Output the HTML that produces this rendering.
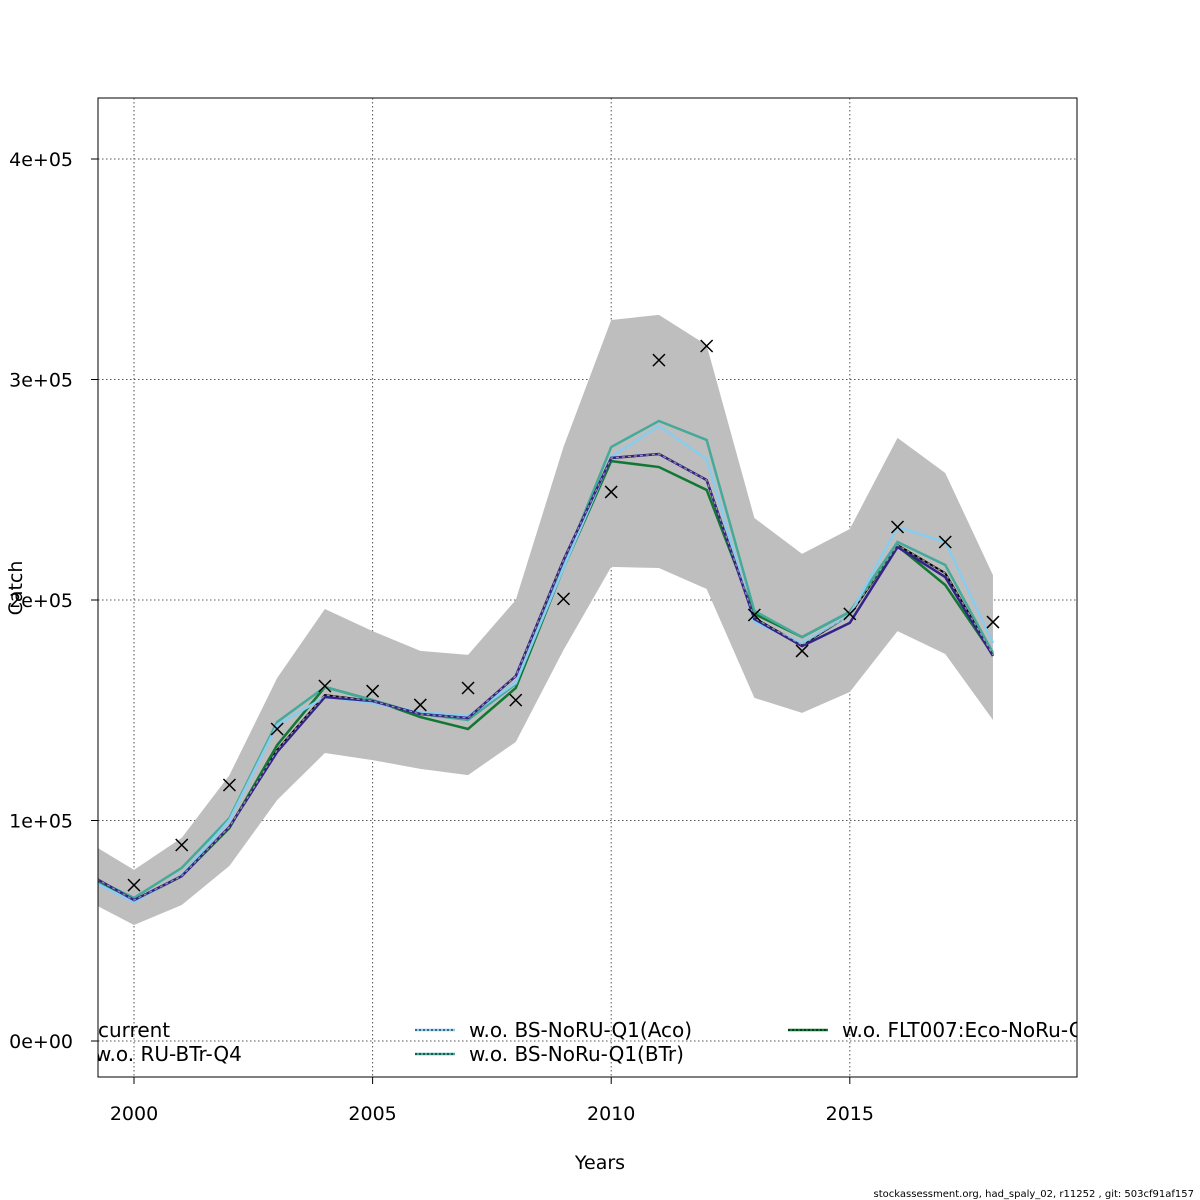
<!DOCTYPE html>
<html><head><meta charset="utf-8"><style>body{margin:0;background:#fff}svg{display:block;font-family:"DejaVu Sans","Liberation Sans",sans-serif}</style></head>
<body>
<svg id="chart" width="1200" height="1200">
<defs><clipPath id="pc"><rect x="98" y="98" width="979" height="979"/></clipPath></defs>
<g id="grid"></g>
<g id="marks" clip-path="url(#pc)"></g>
<rect x="98" y="98" width="979" height="979" fill="none" stroke="#000" stroke-width="1"/>
<g id="axes"></g>
<text x="600" y="1169" font-size="19" text-anchor="middle">Years</text>
<text x="22" y="588" font-size="19" text-anchor="middle" transform="rotate(-90 22 588)">Catch</text>
<g id="legend" clip-path="url(#pc)"></g>
<text x="1194" y="1197" font-size="10" text-anchor="end">stockassessment.org, had_spaly_02, r11252 , git: 503cf91af157</text>
</svg>
<script>
const years=[1999,2000,2001,2002,2003,2004,2005,2006,2007,2008,2009,2010,2011,2012,2013,2014,2015,2016,2017,2018];
const obsYears=[2000,2001,2002,2003,2004,2005,2006,2007,2008,2009,2010,2011,2012,2013,2014,2015,2016,2017,2018];
const observed=[70.7,88.9,116.1,141.5,161.0,158.7,152.4,160.1,154.6,200.5,249.0,308.8,315.2,193.2,176.9,193.7,233.1,226.3,190.0];
const upper=[90.7,77.6,92.1,120.6,164.6,195.9,185.9,176.9,175.1,200,269.4,327.0,329.3,315.6,237.2,220.9,232.2,273.5,257.6,211.3];
const lower=[63.9,52.6,61.7,79.4,109.3,130.6,127.4,123.4,120.6,135.6,177.3,215.0,214.5,205.0,155.6,148.8,158.3,185.9,175.5,145.6];
const current=[76.2,63.9,74.8,97.1,132.0,156.9,154.2,148.3,146.5,165.5,218.1,264.4,266.2,254.4,191.8,179.6,193.2,224.9,212.2,175.1];
const woRU=[76.2,63.9,74.8,97.1,131.1,156.0,154.2,148.3,146.5,165.5,218.1,264.4,266.2,254.4,191.4,179.1,189.6,224.0,210.4,174.6];
const woAco=[73.9,63.0,75.3,100.2,143.3,156.0,153.3,149.2,147.4,162.4,214.5,264.9,278.9,263.9,190.0,180.5,193.2,233.1,226.3,180.5];
const woBTr=[75.3,64.9,78.5,101.1,144.7,160.5,154.6,148.3,145.6,161.9,215.9,269.4,281.2,272.6,195.0,183.2,194.6,226.3,215.9,176.0];
const woFLT=[74.8,63.5,74.8,96.6,134.2,160.5,154.6,146.9,141.5,160.1,214.5,263.0,260.3,249.9,193.7,183.2,194.6,224.5,206.8,175.1];
const xTicks=[2000,2005,2010,2015];
const yTicks=[0,100,200,300,400];
const yTickLabels=["0e+00","1e+05","2e+05","3e+05","4e+05"];
const legendLabels=["current","w.o. RU-BTr-Q4","w.o. BS-NoRU-Q1(Aco)","w.o. BS-NoRu-Q1(BTr)","w.o. FLT007:Eco-NoRu-Q1"];

const X=y=>134+(y-2000)*47.72;
const Y=v=>1041-v*2.205;
const NS="http://www.w3.org/2000/svg";
function mk(p,t,a){const e=document.createElementNS(NS,t);for(const k in a)e.setAttribute(k,a[k]);p.appendChild(e);return e;}
const grid=document.getElementById('grid'),marks=document.getElementById('marks'),axes=document.getElementById('axes'),leg=document.getElementById('legend');
xTicks.forEach(t=>{
 const l=mk(grid,'line',{x1:X(t),x2:X(t),y1:98,y2:1077,stroke:'#555','stroke-dasharray':'1.5,2.5','stroke-width':1});
 
 
 const tk=mk(axes,'line',{x1:X(t),x2:X(t),y1:1077,y2:1084,stroke:'#000'});
 
 
 const tx=mk(axes,'text',{x:X(t),y:1120,'font-size':19,'text-anchor':'middle'});tx.textContent=t;
 
 
});
yTicks.forEach((t,i)=>{
 const l=mk(grid,'line',{x1:98,x2:1077,y1:Y(t),y2:Y(t),stroke:'#555','stroke-dasharray':'1.5,2.5','stroke-width':1});
 
 
 const tk=mk(axes,'line',{x1:91,x2:98,y1:Y(t),y2:Y(t),stroke:'#000'});
 
 
 const tx=mk(axes,'text',{x:73,y:Y(t)+7,'font-size':19,'text-anchor':'end'});tx.textContent=yTickLabels[i];
 
 
});
let d=years.map((y,i)=>(i?'L':'M')+X(y)+','+Y(upper[i])).join('');
for(let i=years.length-1;i>=0;i--)d+='L'+X(years[i])+','+Y(lower[i]);
const band=mk(marks,'path',{d:d+'Z',fill:'#bebebe',stroke:'none'});


function line(vals,color,w,dash,name){
 const p=mk(marks,'polyline',{points:years.map((y,i)=>X(y)+','+Y(vals[i])).join(' '),fill:'none',stroke:color,'stroke-width':w,'stroke-dasharray':dash||'none'});
 
 
}
line(current,'#000',2,null,'current-line');
line(woFLT,'#117733',2.5,null,'wo-flt007-line');
line(woBTr,'#44aa99',2.5,null,'wo-bts-btr-line');
line(woAco,'#88ccee',2.5,null,'wo-bs-aco-line');
line(woRU,'#332288',2.5,null,'wo-ru-btr-line');
line(current,'#999',1.2,'3,3','current-dash-line');
obsYears.forEach((y,i)=>{
 const cx=X(y),cy=Y(observed[i]),s=6;
 const p=mk(marks,'path',{d:`M${cx-s},${cy-s}L${cx+s},${cy+s}M${cx-s},${cy+s}L${cx+s},${cy-s}`,stroke:'#000','stroke-width':1.5});
 
 
});
const lp=[[98,1037,null,'#000'],[95,1061,null,'#332288'],[469,1037,415,'#88ccee'],[469,1061,415,'#44aa99'],[842,1037,788,'#117733']];
lp.forEach((p,i)=>{
 if(p[2]){
  const l=mk(leg,'line',{x1:p[2],x2:p[2]+40,y1:p[1]-7,y2:p[1]-7,stroke:p[3],'stroke-width':2.5});
  
  
  const l2=mk(leg,'line',{x1:p[2],x2:p[2]+40,y1:p[1]-7,y2:p[1]-7,stroke:'#000','stroke-width':1,'stroke-dasharray':'2,2'});
  
  
 }
 const t=mk(leg,'text',{x:p[0],y:p[1],'font-size':20});t.textContent=legendLabels[i];
 
 
});
</script>
</body></html>
